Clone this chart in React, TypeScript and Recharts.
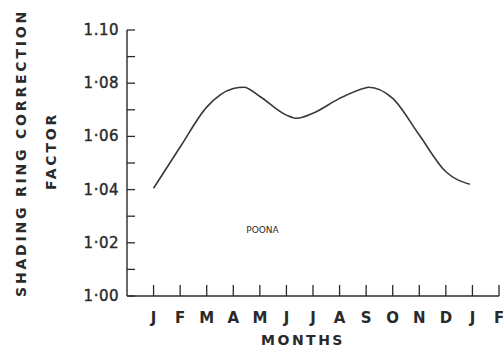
import { LineChart, Line, XAxis, YAxis, ReferenceDot } from "recharts"

const monthLabels = ["J", "F", "M", "A", "M", "J", "J", "A", "S", "O", "N", "D", "J", "F"]
const monthTicks = [1, 2, 3, 4, 5, 6, 7, 8, 9, 10, 11, 12, 13, 14]
const curveX = [1, 2, 3, 4, 4.4, 5, 6, 6.4, 7, 8, 9, 9.1, 10, 11, 12, 12.9]
const curveY = [1.0405, 1.056, 1.071, 1.078, 1.0785, 1.075, 1.068, 1.0668, 1.0687, 1.0743, 1.0783, 1.0785, 1.0743, 1.0605, 1.0467, 1.042]
const yTicks = [1.0, 1.01, 1.02, 1.03, 1.04, 1.05, 1.06, 1.07, 1.08, 1.09, 1.1]

const data = curveX.map((m, i) => ({ m, v: curveY[i] }))

const ink = "#2a2a2a"
const font = "DejaVu Sans"

function fmtY(v: number) {
  const r = Math.round(v * 100)
  if (r % 2 !== 0) return ""
  if (r === 110) return "1.10"
  return v.toFixed(2).replace(".", "·")
}

function YTick(props: any) {
  const { x, y, payload } = props
  const label = fmtY(payload.value)
  return (
    <g>
      <line x1={x} x2={x + 8} y1={y} y2={y} stroke={ink} strokeWidth={1.3} />
      {label && (
        <text x={x - 8} y={y + 5} textAnchor="end" fontFamily={font} fontSize={15} fill={ink} stroke={ink} strokeWidth={0.4} letterSpacing={0.5}>
          {label}
        </text>
      )}
    </g>
  )
}

function XTick(props: any) {
  const { x, y, payload } = props
  const i = monthTicks.indexOf(payload.value)
  return (
    <g>
      <line x1={x} x2={x} y1={y} y2={y - 11} stroke={ink} strokeWidth={1.3} />
      <text x={x} y={y + 27} textAnchor="middle" fontFamily={font} fontSize={15} fontWeight="bold" fill={ink}>
        {monthLabels[i]}
      </text>
    </g>
  )
}

function YLabel(props: any) {
  const vb = props.viewBox
  const cy = vb.y + vb.height / 2 - 10
  return (
    <g fontFamily={font} fontSize={14} fontWeight="bold" fill={ink} letterSpacing={2.8}>
      <text x={vb.x + 26} y={cy} transform={`rotate(-90 ${vb.x + 26} ${cy})`} textAnchor="middle">
        SHADING RING CORRECTION
      </text>
      <text x={vb.x + 56} y={cy - 2} transform={`rotate(-90 ${vb.x + 56} ${cy - 2})`} textAnchor="middle">
        FACTOR
      </text>
    </g>
  )
}

export default function App() {
  return (
    <div style={{ position: "absolute", left: 0, top: 0, width: 503, height: 347, background: "#fff" }}>
      <LineChart width={503} height={347} data={data} margin={{ top: 30, right: 4, left: 0, bottom: 0 }}>
        <XAxis
          dataKey="m"
          type="number"
          domain={[0, 14]}
          ticks={monthTicks}
          tick={<XTick />}
          tickSize={0}
          tickMargin={0}
          tickLine={false}
          stroke={ink}
          strokeWidth={1.4}
          height={51}
          interval={0}
          allowDataOverflow
          label={{ value: "MONTHS", position: "insideBottom", offset: 2, dx: -10, fontFamily: font, fontSize: 14, fontWeight: "bold", fill: ink, letterSpacing: 2.5 }}
        />
        <YAxis
          type="number"
          domain={[1.0, 1.1]}
          ticks={yTicks}
          tick={<YTick />}
          tickSize={0}
          tickMargin={0}
          tickLine={false}
          stroke={ink}
          strokeWidth={1.4}
          width={127}
          interval={0}
          allowDataOverflow
          label={{ content: YLabel }}
        />
        <ReferenceDot
          x={5.1}
          y={1.0248}
          r={0}
          label={{ value: "POONA", position: "center", fontFamily: font, fontSize: 9, fill: ink }}
        />
        <Line type="monotone" dataKey="v" stroke="#383838" strokeWidth={1.6} dot={false} isAnimationActive={false} />
      </LineChart>
    </div>
  )
}
